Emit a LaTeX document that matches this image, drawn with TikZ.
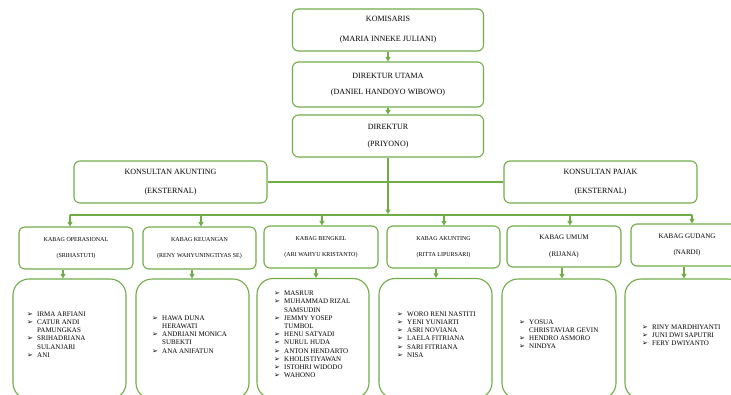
\documentclass[tikz,border=0pt]{standalone}
\usepackage{fontspec}
\setmainfont{Liberation Serif}
\newfontfamily\symfont{DejaVu Sans}
\usepackage{xcolor}
\usepackage{tikz}
\usetikzlibrary{shapes,arrows,positioning,calc,arrows.meta}

\definecolor{grn}{HTML}{70AD47}
\newcommand{\bulpt}{\makebox[10pt][l]{\symfont\fontsize{7}{8}\selectfont ➢}}
\newcommand{\litem}[1]{\bulpt #1}
\newcommand{\lcont}[1]{\hspace*{10pt}#1}

\tikzset{
    topbox/.style={draw=grn,line width=1.1pt,rounded corners=6pt,fill=white,align=center,inner sep=0pt},
    lowbox/.style={draw=grn,line width=1.1pt,rounded corners=16pt,fill=white,inner sep=0pt},
    listtext/.style={align=left,anchor=west,inner sep=0pt,font=\fontsize{7}{8.2}\selectfont},
    ln/.style={draw=grn,line width=1.1pt},
    arr/.style={draw=grn,line width=1.1pt,-{Triangle[width=5pt,length=4.5pt]},grn}
}

\begin{document}
\begin{tikzpicture}[x=1pt,y=-1pt]
    \useasboundingbox (0,0) rectangle (731,394);
    \clip (0,0) rectangle (731,394);
    \fill[white] (0,0) rectangle (731,394);
    % Top
    \node[topbox,minimum width=191pt,minimum height=42pt,font=\fontsize{8}{20}\selectfont] (kom) at (388,30) {KOMISARIS\\(MARIA INNEKE JULIANI)};
    \node[topbox,minimum width=191pt,minimum height=45pt,font=\fontsize{8}{16}\selectfont] (dirut) at (388,84.5) {DIREKTUR UTAMA\\(DANIEL HANDOYO WIBOWO)};
    \node[topbox,minimum width=191pt,minimum height=42pt,font=\fontsize{8}{17}\selectfont] (dir) at (388,136) {DIREKTUR\\(PRIYONO)};
    % Konsultan
    \node[topbox,minimum width=193pt,minimum height=42pt,font=\fontsize{8}{19}\selectfont] (ka) at (170.5,182) {KONSULTAN AKUNTING\\(EKSTERNAL)};
    \node[topbox,minimum width=193pt,minimum height=42pt,font=\fontsize{8}{19}\selectfont] (kp) at (600.5,182) {KONSULTAN PAJAK\\(EKSTERNAL)};
    % Kabag
    \node[topbox,minimum width=114pt,minimum height=42pt,font=\fontsize{6}{16}\selectfont] (k1) at (76,248) {KABAG OPERASIONAL\\(SRIHASTUTI)};
    \node[topbox,minimum width=113pt,minimum height=42pt,font=\fontsize{6}{16}\selectfont] (k2) at (199.5,248) {KABAG KEUANGAN\\(RENY WAHYUNINGTIYAS SE)};
    \node[topbox,minimum width=114pt,minimum height=42pt,font=\fontsize{6}{16}\selectfont] (k3) at (321,247) {KABAG BENGKEL\\(ARI WAHYU KRISTANTO)};
    \node[topbox,minimum width=113pt,minimum height=42pt,font=\fontsize{6}{16}\selectfont] (k4) at (443.5,247) {KABAG AKUNTING\\(RITTA LIPURSARI)};
    \node[topbox,minimum width=114pt,minimum height=41pt,font=\fontsize{7}{17}\selectfont] (k5) at (564,246.5) {KABAG UMUM\\(RIJANA)};
    \node[topbox,minimum width=112pt,minimum height=42pt,font=\fontsize{7}{16}\selectfont] (k6) at (687,245) {KABAG GUDANG\\(NARDI)};
    % Staff boxes
    \node[lowbox,minimum width=113pt,minimum height=120pt] (l1) at (69.5,339) {};
    \node[lowbox,minimum width=113pt,minimum height=120pt] (l2) at (192.5,339) {};
    \node[lowbox,minimum width=112pt,minimum height=120pt] (l3) at (313,338.5) {};
    \node[lowbox,minimum width=113pt,minimum height=120pt] (l4) at (435.5,338.5) {};
    \node[lowbox,minimum width=114pt,minimum height=120pt] (l5) at (559,339) {};
    \node[lowbox,minimum width=119pt,minimum height=120pt] (l6) at (684.5,339) {};
    % Staff names
    \node[listtext] (t1) at (27,334.5) {\litem{IRMA ARFIANI}\\\litem{CATUR ANDI}\\\lcont{PAMUNGKAS}\\\litem{SRIHADRIANA}\\\lcont{SULANJARI}\\\litem{ANI}};
    \node[listtext] (t2) at (152,334.5) {\litem{HAWA DUNA}\\\lcont{HERAWATI}\\\litem{ANDRIANI MONICA}\\\lcont{SUBEKTI}\\\litem{ANA ANIFATUN}};
    \node[listtext] (t3) at (274,334.5) {\litem{MASRUR}\\\litem{MUHAMMAD RIZAL}\\\lcont{SAMSUDIN}\\\litem{JEMMY YOSEP}\\\lcont{TUMBOL}\\\litem{HENU SATYADI}\\\litem{NURUL HUDA}\\\litem{ANTON HENDARTO}\\\litem{KHOLISTIYAWAN}\\\litem{ISTOHRI WIDODO}\\\litem{WAHONO}};
    \node[listtext] (t4) at (397,334.5) {\litem{WORO RENI NASTITI}\\\litem{YENI YUNIARTI}\\\litem{ASRI NOVIANA}\\\litem{LAELA FITRIANA}\\\litem{SARI FITRIANA}\\\litem{NISA}};
    \node[listtext] (t5) at (519,334) {\litem{YOSUA}\\\lcont{CHRISTAVIAR GEVIN}\\\litem{HENDRO ASMORO}\\\litem{NINDYA}};
    \node[listtext] (t6) at (642,335) {\litem{RINY MARDHIYANTI}\\\litem{JUNI DWI SAPUTRI}\\\litem{FERY DWIYANTO}};
    % Top chain
    \draw[arr] (kom.south) -- (dirut.north);
    \draw[arr] (dirut.south) -- (dir.north);
    \coordinate (busc) at (388,214);
    \draw[arr] (dir.south) -- (busc);
    % Konsultan line
    \draw[ln] (ka.east) -- (kp.west);
    % Bus
    \coordinate (b1) at (70,215);
    \coordinate (b2) at (201,215);
    \coordinate (b3) at (322,215);
    \coordinate (b4) at (444,215);
    \coordinate (b5) at (570,215);
    \coordinate (b6) at (692,215);
    \draw[ln,line cap=round] (b1) -- (b6);
    \draw[arr] (b1) -- (b1 |- k1.north);
    \draw[arr] (b2) -- (b2 |- k2.north);
    \draw[arr] (b3) -- (b3 |- k3.north);
    \draw[arr] (b4) -- (b4 |- k4.north);
    \draw[arr] (b5) -- (b5 |- k5.north);
    \draw[arr] (b6) -- (b6 |- k6.north);
    % Kabag to staff
    \draw[arr] ([xshift=-6.5pt]l1.north |- k1.south) -- ([xshift=-6.5pt]l1.north);
    \draw[arr] ([xshift=-0.5pt]l2.north |- k2.south) -- ([xshift=-0.5pt]l2.north);
    \draw[arr] ([xshift=3pt]l3.north |- k3.south) -- ([xshift=3pt]l3.north);
    \draw[arr] ([xshift=0.5pt]l4.north |- k4.south) -- ([xshift=0.5pt]l4.north);
    \draw[arr] ([xshift=3pt]l5.north |- k5.south) -- ([xshift=3pt]l5.north);
    \draw[arr] ([xshift=-0.5pt]l6.north |- k6.south) -- ([xshift=-0.5pt]l6.north);
\end{tikzpicture}
\end{document}
